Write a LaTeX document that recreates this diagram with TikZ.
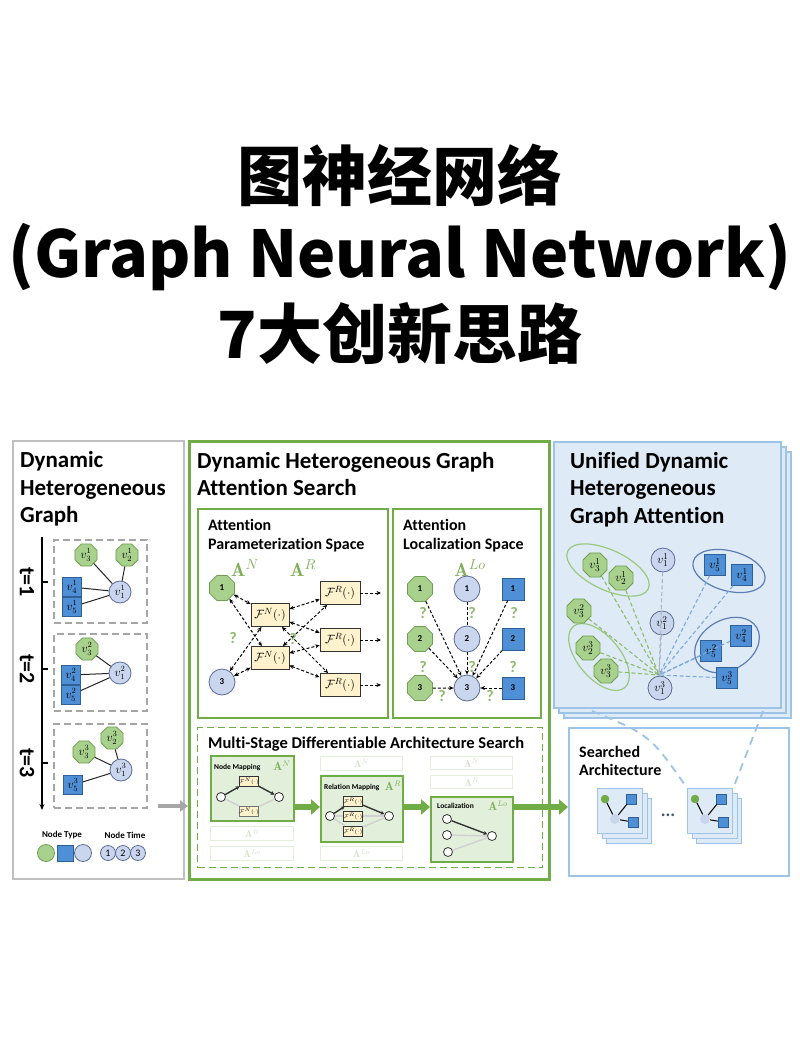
\documentclass[tikz,border=0pt]{standalone}
\usepackage{amsmath}
\usepackage{fontspec}
\usetikzlibrary{shapes.geometric,arrows.meta,calc}
\newfontfamily\cjk{Noto Sans CJK SC}
\newfontfamily\hd{Carlito}[Ligatures={NoCommon,NoContextual}]
\newcommand{\myfs}[1]{\fontsize{#1}{#1}\selectfont}
\definecolor{gline}{HTML}{70AD47}
\definecolor{gfill}{HTML}{A9D18E}
\definecolor{gnode}{HTML}{6E9E4F}
\definecolor{gtxt}{HTML}{7FAF5A}
\definecolor{bfill}{HTML}{4F8FD6}
\definecolor{bline}{HTML}{2F5F98}
\definecolor{cfill}{HTML}{C9D6EE}
\definecolor{cline}{HTML}{5B6B94}
\definecolor{ffill}{HTML}{FFF2CC}
\definecolor{pfill}{HTML}{DEEBF7}
\definecolor{pline}{HTML}{9DC3E6}
\definecolor{sfill}{HTML}{E2EFDA}
\definecolor{fade}{HTML}{E3EEDC}
\definecolor{fadetxt}{HTML}{D3E1CA}
\definecolor{pgray}{HTML}{BFBFBF}
\definecolor{dgray}{HTML}{A6A6A6}
\definecolor{gdash}{HTML}{8DBB6C}
\definecolor{bdash}{HTML}{7FA8DA}
\definecolor{cdash}{HTML}{A9B3C4}
\definecolor{gell}{HTML}{9CC77F}
\definecolor{bell}{HTML}{5E7DB5}
\definecolor{navy}{HTML}{44546A}
\begin{document}
\begin{tikzpicture}[x=1pt,y=-1pt,
  oct/.style={regular polygon, regular polygon sides=8, draw=gnode, fill=gfill, minimum size=#1, inner sep=0pt, line width=0.8pt},
  oct/.default=24,
  sqn/.style={rectangle, draw=bline, fill=bfill, minimum width=#1, minimum height=#1, inner sep=0pt, line width=0.8pt},
  sqn/.default=19,
  cir/.style={circle, draw=cline, fill=cfill, minimum size=#1, inner sep=0pt, line width=0.8pt},
  cir/.default=22,
  hdg/.style={font=\hd\bfseries\myfs{#1}, inner sep=0pt, anchor=base west},
  numf/.style={font=\hd\bfseries\myfs{9}},
  mlab/.style={font=\myfs{12}},
  box/.style={anchor=north west, inner sep=0pt},
  dbox/.style={box, draw=dgray, dashed, dash pattern=on 7pt off 4pt, line width=1.5pt},
  sub/.style={box, draw=gline, line width=2pt},
  alab/.style={text=gtxt, font=\myfs{#1}, inner sep=0pt},
  fbox/.style={rectangle, draw=black!80, fill=ffill, minimum height=23, inner sep=0pt, line width=0.8pt, font=\myfs{13}},
  qm/.style={text=gdash, font=\hd\bfseries\myfs{16}, inner sep=0pt},
  da/.style={dashed, dash pattern=on 3pt off 2pt, line width=1pt, -{Stealth[length=4.5pt,width=4pt]}},
  dab/.style={dashed, dash pattern=on 3pt off 2pt, line width=1pt, {Stealth[length=4.5pt,width=4pt]}-{Stealth[length=4.5pt,width=4pt]}},
  dnl/.style={dashed, dash pattern=on 3pt off 2pt, line width=1pt},
  stage/.style={box, draw=gline, fill=sfill, line width=1.8pt},
  fbx/.style={box, draw=fade, fill=white, line width=1.4pt, minimum height=14},
  ftx/.style={text=fadetxt, font=\myfs{10}, inner sep=0pt},
  mc/.style={circle, draw=black!80, fill=white, minimum size=9, inner sep=0pt, line width=0.8pt},
  mf/.style={rectangle, draw=black!80, fill=ffill, minimum width=17, minimum height=10, inner sep=0pt, line width=0.7pt, font=\myfs{4}},
  darr/.style={line width=1.4pt, black!80, -{Stealth[length=4pt,width=4pt]}},
  fln/.style={line width=1.4pt, black!18},
  garr/.style={line width=5.5pt, gline, -{Triangle[length=9pt,width=15pt]}},
  pan3/.style={box, draw=pline, fill=pfill, line width=1.5pt, minimum width=227, minimum height=266},
  sl/.style={font=\hd\bfseries\myfs{7.5}, inner sep=0pt, anchor=base west},
  gl/.style={dashed, dash pattern=on 4pt off 2.5pt, line width=1.1pt, gdash},
  bl/.style={dashed, dash pattern=on 4pt off 2.5pt, line width=1.1pt, bdash},
  cl/.style={dashed, dash pattern=on 4pt off 2.5pt, line width=1.1pt, cdash},
  icb/.style={box, draw=pline, fill=pfill, line width=1.3pt, minimum width=45, minimum height=45}
]
\useasboundingbox[fill=white] (0,0) rectangle (800,1050);

% ---------- title ----------
\node[font=\cjk\bfseries\myfs{65}, anchor=base, inner sep=0pt] (t1) at (400,200) {图神经网络};
\node[font=\cjk\bfseries\myfs{64.5}, anchor=base, inner sep=0pt] (t2) at (400,277) {(Graph Neural Network)};
\node[font=\cjk\bfseries\myfs{65}, anchor=base, inner sep=0pt] (t3) at (400,358) {7大创新思路};

% ---------- panel 1 ----------
\node[box, draw=pgray, line width=1.5pt, minimum width=171, minimum height=438] (p1) at (12,440) {};
\node[hdg=23] (h1a) at (20,467) {Dynamic};
\node[hdg=23] (h1b) at (20,495) {Heterogeneous};
\node[hdg=23] (h1c) at (20,522) {Graph};

\coordinate (ax0) at (42,537);
\coordinate (ax1) at (42,810);
\draw[line width=1.2pt, -{Stealth[length=6pt,width=5pt]}] (ax0) -- (ax1);
\foreach \y/\t in {582/1,669/2,763/3}{
  \coordinate (tk\t) at (48,\y);
  \draw[line width=1.2pt] (tk\t) -- (ax0 |- tk\t);
  \node[font=\hd\bfseries\myfs{22}, rotate=-90, inner sep=0pt] (tl\t) at (27,\y) {t=\t};
}
\node[dbox, minimum width=93, minimum height=83] (b1) at (53,539) {};
\node[dbox, minimum width=93, minimum height=77] (b2) at (53,633) {};
\node[dbox, minimum width=93, minimum height=84] (b3) at (53,723) {};

\begin{scope}[every node/.append style={mlab}]
\node[oct] (a31) at (86,555) {$v_3^1$};
\node[oct] (a21) at (127,555) {$v_2^1$};
\node[sqn] (a41) at (72,587) {$v_4^1$};
\node[sqn] (a51) at (72,607) {$v_5^1$};
\node[cir] (a11) at (120,592) {$v_1^1$};
\node[oct] (a32) at (87,649) {$v_3^2$};
\node[sqn] (a42) at (71,675) {$v_4^2$};
\node[sqn] (a52) at (71,695) {$v_5^2$};
\node[cir] (a12) at (120,673) {$v_1^2$};
\node[oct] (a33) at (84,752) {$v_3^3$};
\node[oct] (a23) at (112,738) {$v_2^3$};
\node[cir] (a13) at (121,770) {$v_1^3$};
\node[sqn] (a53) at (73,785) {$v_5^3$};
\end{scope}
\foreach \a/\b in {a11/a31,a11/a21,a11/a41,a11/a51,a12/a32,a12/a42,a12/a52,a13/a33,a13/a23,a13/a53}
  \draw[line width=1pt, black!85] (\a) -- (\b);

\node[font=\hd\bfseries\myfs{9}, inner sep=0pt] (lt1) at (62,835) {Node Type};
\node[font=\hd\bfseries\myfs{9}, inner sep=0pt] (lt2) at (125,835) {Node Time};
\node[circle, draw=gnode, fill=gfill, minimum size=17, inner sep=0pt, line width=0.8pt] (lgn) at (46,853) {};
\node[sqn=16] (lsq) at (65,853) {};
\node[cir=17] (lci) at (83,853) {};
\foreach \n/\x in {1/108,2/123,3/138}
  \node[cir=15, font=\hd\myfs{10}] (lk\n) at (\x,853) {\n};

% ---------- panel 2 ----------
\node[box, draw=gline, line width=2.5pt, minimum width=360, minimum height=438] (p2) at (188,440) {};
\coordinate (ga) at (158,806);
\draw[line width=3.5pt, dgray, -{Triangle[length=8pt,width=11pt]}] (ga) -- (p2.west |- ga);

\node[hdg=23] (h2a) at (197,468) {Dynamic Heterogeneous Graph};
\node[hdg=23] (h2b) at (197,495) {Attention Search};

\node[sub, minimum width=190, minimum height=209] (ap) at (197,508) {};
\node[sub, minimum width=148, minimum height=209] (al) at (392,508) {};
\node[hdg=16] (h3a) at (208,530) {Attention};
\node[hdg=16] (h3b) at (208,549) {Parameterization Space};
\node[hdg=16] (h4a) at (403,530) {Attention};
\node[hdg=16] (h4b) at (403,549) {Localization Space};

\node[alab=19] (anl) at (245,568) {$\mathbf{A}^N$};
\node[alab=19] (arl) at (303,568) {$\mathbf{A}^R$};
\node[alab=19] (alol) at (470,568) {$\mathbf{A}^{Lo}$};

% parameterization space
\node[oct=27, numf] (pa1) at (222,588) {1};
\node[cir=26, numf] (pa3) at (222,682) {3};
\node[fbox, minimum width=38] (fn1) at (270,615) {$\mathcal{F}^N(\cdot)$};
\node[fbox, minimum width=38] (fn2) at (270,658) {$\mathcal{F}^N(\cdot)$};
\node[fbox, minimum width=40] (fr1) at (340,593) {$\mathcal{F}^R(\cdot)$};
\node[fbox, minimum width=40] (fr2) at (340,640) {$\mathcal{F}^R(\cdot)$};
\node[fbox, minimum width=40] (fr3) at (340,685) {$\mathcal{F}^R(\cdot)$};
\foreach \a/\b in {pa1/fn1,pa1/fn2,pa3/fn1,pa3/fn2}
  \draw[dab] (\a) -- (\b);
\foreach \a in {fn1,fn2}
  \foreach \b in {fr1,fr2,fr3}
    \draw[dab] (\a) -- (\b);
\foreach \i/\y in {1/593,2/640,3/685}{
  \coordinate (fo\i) at (381,\y);
  \draw[da] (fr\i) -- (fo\i);
}
\node[qm] (q1) at (233,638) {?};
\node[qm] (q2) at (293,639) {?};

% localization space
\node[oct=27, numf] (lg1) at (420,589) {1};
\node[oct=27, numf] (lg2) at (420,639) {2};
\node[oct=27, numf] (lg3) at (420,688) {3};
\node[cir=26, numf] (lc1) at (467,589) {1};
\node[cir=26, numf] (lc2) at (467,639) {2};
\node[cir=26, numf] (lc3) at (467,688) {3};
\node[sqn=22, numf] (ls1) at (513,589) {1};
\node[sqn=22, numf] (ls2) at (513,639) {2};
\node[sqn=22, numf] (ls3) at (513,688) {3};
\foreach \a in {lg1,lg2,lg3,lc2,ls1,ls2,ls3}
  \draw[da] (\a) -- (lc3);
\draw[dnl] (lc1) -- (lc2);
\foreach \x/\y in {423/613,472/613,514/613,423/667,472/667,513/667,442/696,490/696}
  \node[qm] at (\x,\y) {?};

% multi-stage
\node[box, draw=gline, dashed, dash pattern=on 7pt off 4pt, line width=1.2pt, minimum width=345, minimum height=140] (ms) at (197,727) {};
\node[hdg=16.5] (h5) at (208,748) {Multi-Stage Differentiable Architecture Search};

% node mapping stage
\node[stage, minimum width=83, minimum height=65] (nm) at (210,755) {};
\node[sl] (nmt) at (214,769) {Node Mapping};
\node[alab=12] (nma) at (282,766) {$\mathbf{A}^N$};
\node[mc] (nmL) at (221,797) {};
\node[mc] (nmR) at (279,797) {};
\node[mf] (nmF1) at (249,781) {$\mathcal{F}^N(\cdot)$};
\node[mf, draw=black!55] (nmF2) at (249,811) {$\mathcal{F}^N(\cdot)$};
\draw[fln] (nmL) -- (nmF2);
\draw[fln] (nmF2) -- (nmR);
\draw[darr] (nmL) -- (nmF1);
\draw[darr] (nmF1) -- (nmR);
\node[fbx, minimum width=83] (nmA) at (210,826) {};
\node[ftx] at (nmA) {$\mathbf{A}^R$};
\node[fbx, minimum width=83] (nmB) at (210,846) {};
\node[ftx] at (nmB) {$\mathbf{A}^{Lo}$};

% relation mapping stage
\node[fbx, minimum width=82] (rmA) at (320,756) {};
\node[ftx] at (rmA) {$\mathbf{A}^N$};
\node[stage, minimum width=82, minimum height=66] (rm) at (320,775) {};
\node[sl] (rmt) at (324,789) {Relation Mapping};
\node[alab=12] (rma) at (393,786) {$\mathbf{A}^R$};
\node[mc] (rmL) at (330,816) {};
\node[mc] (rmR) at (389,816) {};
\node[mf] (rmF1) at (353,801) {$\mathcal{F}^R(\cdot)$};
\node[mf] (rmF2) at (353,816) {$\mathcal{F}^R(\cdot)$};
\node[mf] (rmF3) at (353,831) {$\mathcal{F}^R(\cdot)$};
\foreach \f in {rmF2,rmF3}{
  \draw[fln] (rmL) -- (\f);
  \draw[fln] (\f) -- (rmR);
}
\draw[darr] (rmL) -- (rmF1);
\draw[darr] (rmF1) -- (rmR);
\node[fbx, minimum width=82] (rmB) at (320,846) {};
\node[ftx] at (rmB) {$\mathbf{A}^{Lo}$};

% localization stage
\node[fbx, minimum width=82, minimum height=13] (loA) at (430,756) {};
\node[ftx] at (loA) {$\mathbf{A}^N$};
\node[fbx, minimum width=82, minimum height=13] (loB) at (430,775) {};
\node[ftx] at (loB) {$\mathbf{A}^R$};
\node[stage, minimum width=82, minimum height=65] (lo) at (430,796) {};
\node[sl] (lot) at (437,808) {Localization};
\node[alab=12] (loa) at (498,806) {$\mathbf{A}^{Lo}$};
\node[mc] (lo1) at (447,819) {};
\node[mc] (lo2) at (447,835) {};
\node[mc] (lo3) at (448,852) {};
\node[mc] (loT) at (492,836) {};
\draw[fln] (lo2) -- (loT);
\draw[fln] (lo3) -- (loT);
\draw[darr] (lo1) -- (loT);

\coordinate (ya) at (0,807);
\draw[garr] (nm.east |- ya) -- (rm.west |- ya);
\draw[garr] (rm.east |- ya) -- (lo.west |- ya);

% ---------- panel 3 ----------
\node[pan3] (p3c) at (563,451) {};
\node[pan3] (p3b) at (558,446) {};
\node[pan3] (p3a) at (553,441) {};
\node[hdg=23] (h6a) at (570,468) {Unified Dynamic};
\node[hdg=23] (h6b) at (570,495) {Heterogeneous};
\node[hdg=23] (h6c) at (570,523) {Graph Attention};

\node[ellipse, draw=gell, line width=1.2pt, minimum width=89, minimum height=40, rotate=-25] (e1) at (608,570) {};
\node[ellipse, draw=bell, line width=1.2pt, minimum width=74, minimum height=40, rotate=-15] (e2) at (729,571) {};
\node[ellipse, draw=gell, line width=1.2pt, minimum width=80, minimum height=42, rotate=-50] (e3) at (599,657) {};
\node[ellipse, draw=bell, line width=1.2pt, minimum width=69, minimum height=50, rotate=30] (e4) at (727,645) {};

\begin{scope}[every node/.append style={font=\myfs{13}}]
\node[oct=26] (u31) at (595,565) {$v_3^1$};
\node[oct=26] (u21) at (621,578) {$v_2^1$};
\node[cir=24] (u11) at (663,560) {$v_1^1$};
\node[sqn=21] (u51) at (715,565) {$v_5^1$};
\node[sqn=21] (u41) at (742,575) {$v_4^1$};
\node[oct=26] (u32) at (579,611) {$v_3^2$};
\node[cir=24] (u12) at (662,623) {$v_1^2$};
\node[oct=26] (u23) at (588,648) {$v_2^3$};
\node[oct=26] (u33) at (606,671) {$v_3^3$};
\node[sqn=21] (u42) at (741,636) {$v_4^2$};
\node[sqn=21] (u52) at (711,651) {$v_5^2$};
\node[cir=24] (u13) at (660,688) {$v_1^3$};
\node[sqn=21] (u53) at (727,678) {$v_5^3$};
\end{scope}
\coordinate (hub) at (659,675);
\foreach \n in {u31,u21,u32,u23,u33} \draw[gl] (\n) -- (hub);
\foreach \n in {u11,u12} \draw[cl] (\n) -- (hub);
\foreach \n in {u51,u41,u42,u52,u53} \draw[bl] (\n) -- (hub);

% searched architecture
\node[box, draw=pline, fill=white, line width=1.8pt, minimum width=220, minimum height=148] (sa) at (568,727) {};
\draw[garr] (lo.east |- ya) -- (sa.west |- ya);
\node[hdg=16] (h7a) at (579,757) {Searched};
\node[hdg=16] (h7b) at (579,775) {Architecture};

\foreach \i/\x in {1/597,2/687}{
  \node[icb] (icc\i) at ({\x+9},798) {};
  \node[icb] (icb\i) at ({\x+4.5},793) {};
  \node[icb] (icf\i) at (\x,788) {};
  \node[circle, fill=gline, draw=gnode, minimum size=8, inner sep=0pt] (icg\i) at ({\x+8},799) {};
  \node[circle, fill=cfill, minimum size=10, inner sep=0pt] (icc\i x) at ({\x+18},819) {};
  \node[rectangle, fill=bfill, draw=bline, minimum size=10, inner sep=0pt] (ics\i a) at ({\x+34},799) {};
  \node[rectangle, fill=bfill, draw=bline, minimum size=10, inner sep=0pt] (ics\i b) at ({\x+36},822) {};
  \draw[line width=1pt] (icg\i) -- (icc\i x);
  \draw[line width=1pt] (icc\i x) -- (ics\i a);
  \draw[line width=1pt] (icc\i x) -- (ics\i b);
}
\node[font=\hd\bfseries\myfs{18}, text=navy, inner sep=0pt] (dots) at (668,815) {...};

\coordinate (dc1) at (592,711);
\coordinate (dc2) at (763,711);
\draw[pline, line width=1.8pt, dashed, dash pattern=on 8pt off 6pt] (dc1) .. controls (650,735) .. (icf2.north west);
\draw[pline, line width=1.8pt, dashed, dash pattern=on 8pt off 6pt] (dc2) -- (icf2.north east);

\end{tikzpicture}
\end{document}
